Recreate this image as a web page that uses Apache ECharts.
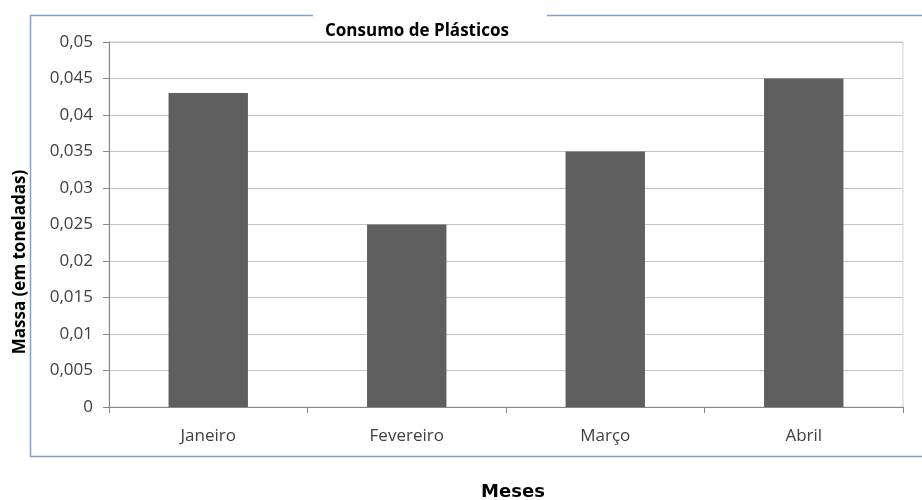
<!DOCTYPE html>
<html>
<head>
<meta charset="utf-8">
<script src="https://cdn.jsdelivr.net/npm/echarts@6/dist/echarts.min.js"></script>
<style>html,body{margin:0;padding:0;background:#fff;}#c{width:922px;height:500px;}</style>
</head>
<body>
<div id="c"></div>
<script>
const categories = ['Janeiro', 'Fevereiro', 'Março', 'Abril'];
const values = [0.043, 0.025, 0.035, 0.045];
const chartTitle = 'Consumo de Plásticos';
const xName = 'Meses';
const yName = 'Massa (em toneladas)';

const chart = echarts.init(document.getElementById('c'), null, {renderer: 'canvas'});
const fmt = v => String(v).replace('.', ',');
chart.setOption({
  backgroundColor: '#fff',
  animation: false,
  title: {
    text: chartTitle,
    left: 313, top: 8,
    backgroundColor: '#fff',
    padding: [14, 38, 0, 12],
    textStyle: {fontFamily: 'Open Sans', fontWeight: 'bold', fontSize: 17, color: '#000', lineHeight: 18}
  },
  graphic: [
    {type: 'rect', z: -10, silent: true, shape: {x: 30.5, y: 15.5, width: 950, height: 441},
     style: {fill: null, stroke: '#7ea3d2', lineWidth: 1.5}},
    {type: 'text', x: 513, y: 492, z: 10,
     style: {text: xName, align: 'center', verticalAlign: 'middle', fontFamily: 'DejaVu Sans', fontWeight: 'bold', fontSize: 18, fill: '#000'}},
    {type: 'text', x: 20, y: 262, rotation: Math.PI / 2, z: 10,
     style: {text: yName, align: 'center', verticalAlign: 'middle', fontFamily: 'Open Sans', fontWeight: 'bold', fontSize: 17, fill: '#000',
             backgroundColor: '#fff', padding: [0, 14]}}
  ],
  grid: {left: 109, right: 19, top: 42, bottom: 93, show: true, borderColor: '#c5d3e6', borderWidth: 1, backgroundColor: 'transparent'},
  xAxis: {
    type: 'category', data: categories, boundaryGap: true,
    axisLine: {lineStyle: {color: '#868686'}},
    axisTick: {show: true, length: 6, alignWithLabel: false, lineStyle: {color: '#868686'}},
    axisLabel: {margin: 21, fontFamily: 'Open Sans', fontSize: 17, color: '#404040'}
  },
  yAxis: {
    type: 'value', min: 0, max: 0.05, interval: 0.005,
    axisLine: {show: true, lineStyle: {color: '#868686'}},
    axisTick: {show: true, length: 6, lineStyle: {color: '#868686'}},
    splitLine: {lineStyle: {color: '#c4c4c4'}},
    axisLabel: {margin: 16, fontFamily: 'Open Sans', fontSize: 17, color: '#404040', formatter: v => fmt(+v.toFixed(3))}
  },
  series: [{
    type: 'bar', data: values, barWidth: '40%',
    itemStyle: {color: '#5f5f5f'}
  }]
});
</script>
</body>
</html>
